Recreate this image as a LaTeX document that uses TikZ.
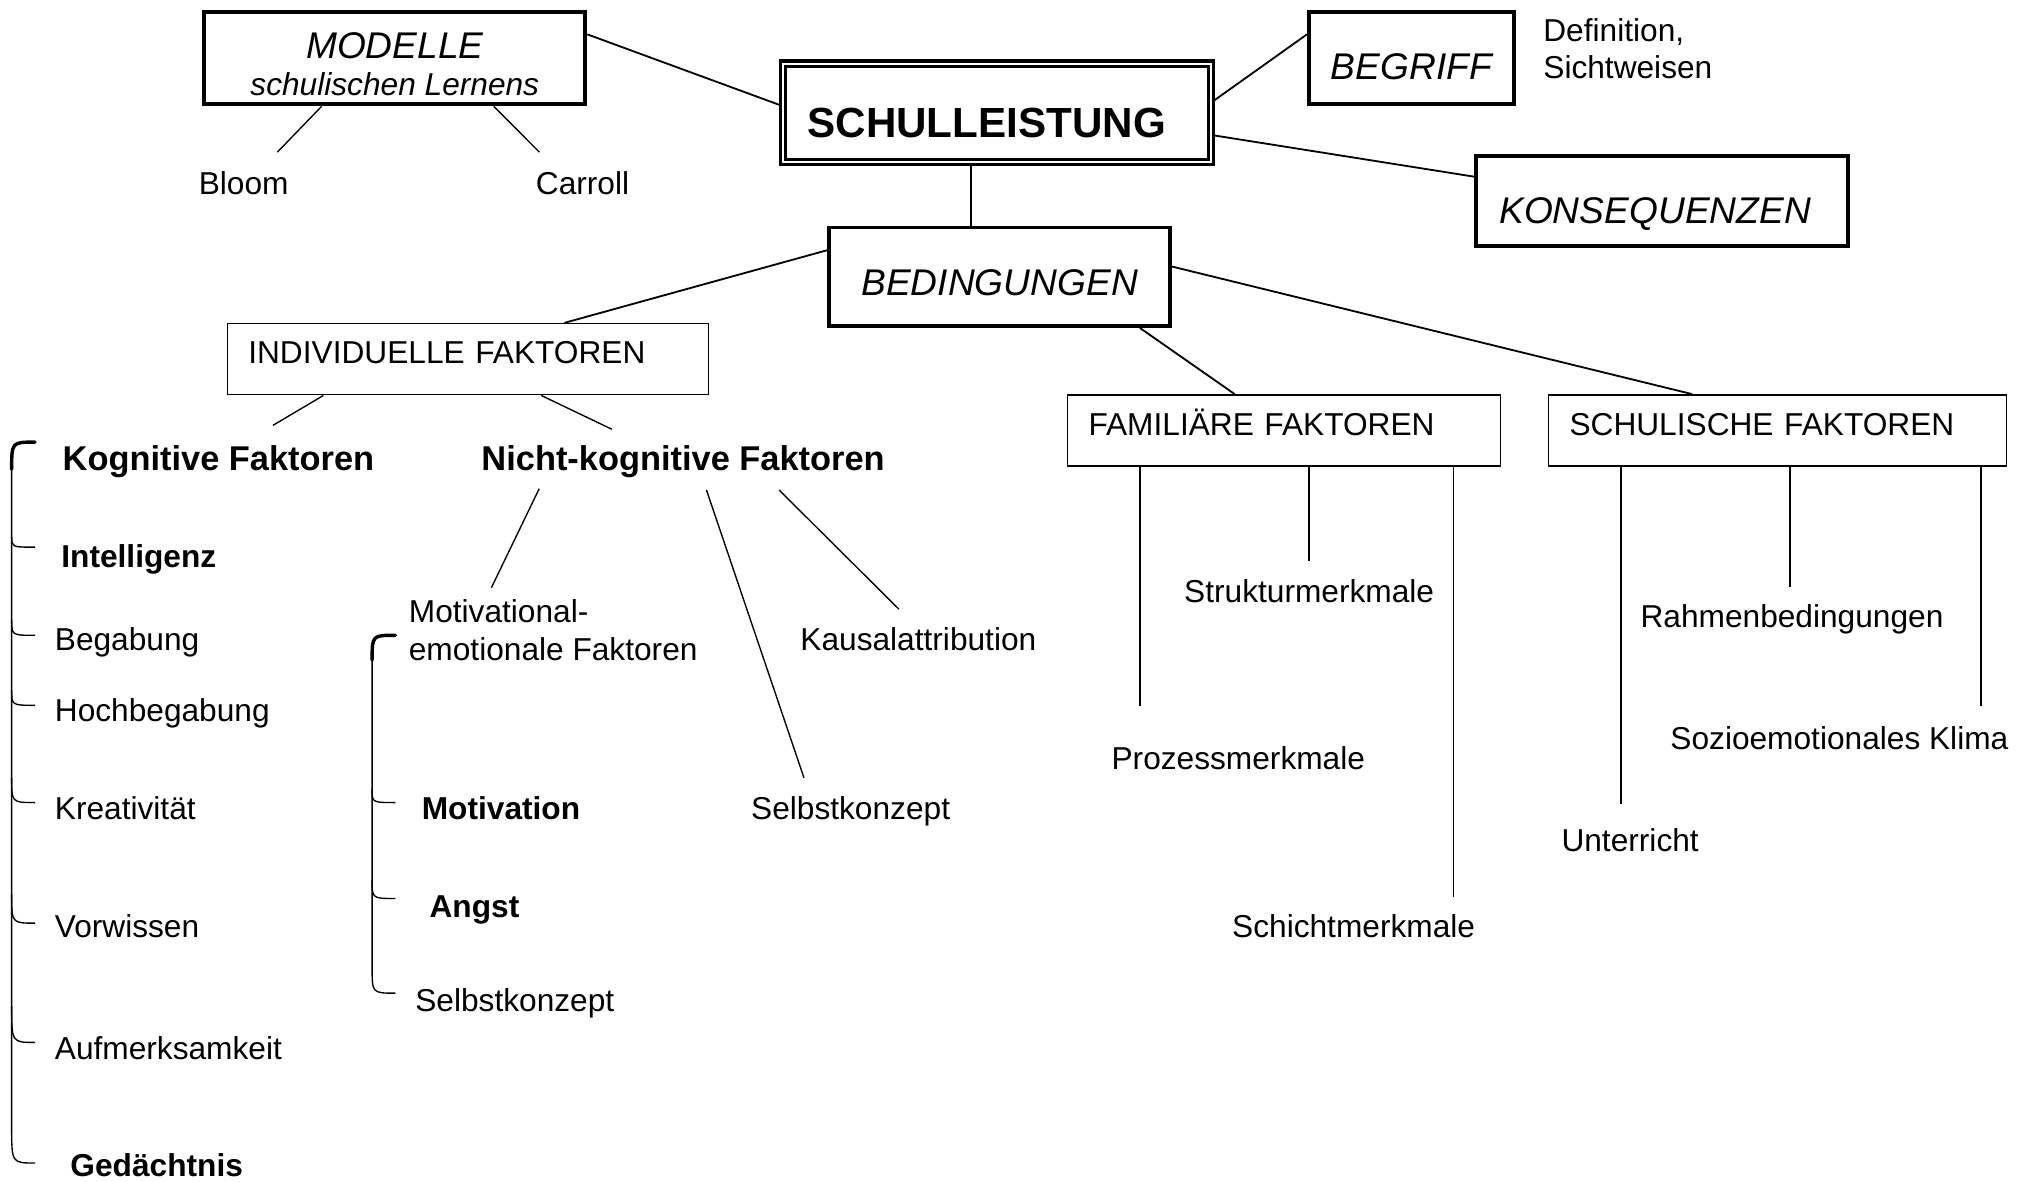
\documentclass[tikz,border=0pt]{standalone}
\usepackage{fontspec}
\setmainfont{Liberation Sans}
\usetikzlibrary{calc}

\newcommand{\txtfont}{\fontsize{13.9}{16.4}\selectfont}
\newcommand{\kopffont}{\fontsize{15.1}{18}\selectfont\bfseries}
\newcommand{\kastenfont}{\fontsize{16.3}{19}\selectfont\itshape}
\newcommand{\hauptfont}{\fontsize{18.5}{22}\selectfont\bfseries}

\tikzset{
    dickbox/.style={draw, line width=1.7pt, inner sep=0pt, font=\kastenfont},
    duennbox/.style={draw, line width=0.6pt, anchor=north west, inner xsep=0.32cm,
        inner ysep=0pt, text height=0.62cm, text depth=0.48cm, align=left, font=\txtfont},
    txt/.style={anchor=west, inner sep=0pt, font=\txtfont},
    eintrag/.style={txt, text height=10pt, text depth=0pt},
    fett/.style={eintrag, font=\txtfont\bfseries},
    kopf/.style={eintrag, font=\kopffont, text height=10.9pt},
    verb/.style={line width=0.8pt},
    ast/.style={line width=0.6pt},
    haken/.style={line width=0.6pt},
    klammerkopf/.style={line width=1.5pt, line cap=round},
}

\begin{document}
\begin{tikzpicture}[x=0.02cm, y=-0.02cm]
    \useasboundingbox (0,0) rectangle (1568,911);

    % obere Kaesten
    \node (schul) [dickbox, double, line width=1.4pt, double distance=0.9pt, font=\hauptfont,
        minimum width=6.6cm, minimum height=1.52cm, text height=0.75cm, text depth=0pt]
        at (769,87) {SCHULLEISTUNG\kern0.32cm};
    \node (modelle) [dickbox, align=center, font=\itshape\txtfont, minimum width=5.88cm,
        minimum height=1.42cm, text height=1.24cm, text depth=0.08cm]
        at (304.5,45) {{\kastenfont MODELLE}\\schulischen Lernens};
    \node (begriff) [dickbox, minimum width=3.16cm, minimum height=1.42cm,
        text height=0.65cm, text depth=0pt] at (1088.5,45) {BEGRIFF};
    \node (defin) [txt, align=left] at (1190,37.5) {Definition,\\Sichtweisen};
    \node (konseq) [dickbox, minimum width=5.74cm, minimum height=1.38cm,
        text height=0.69cm, text depth=0pt] at (1282,155) {KONSEQUENZEN\kern0.22cm};
    \node (beding) [dickbox, minimum width=5.26cm, minimum height=1.52cm,
        text height=0.59cm, text depth=0pt] at (771,213.5) {BEDINGUNGEN};
    \node (bloom) [eintrag] at (153,141.5) {Bloom};
    \node (carroll) [eintrag] at (413,141.5) {Carroll};

    % Faktoren
    \node (indiv) [duennbox, text width=6.78cm] at (175,249) {INDIVIDUELLE FAKTOREN};
    \node (famil) [duennbox, text width=6.04cm] at (823,304) {FAMILIÄRE FAKTOREN};
    \node (schulf) [duennbox, text width=6.42cm] at (1194,304) {SCHULISCHE FAKTOREN};

    % individuelle Faktoren
    \node (kogn) [kopf] at (48,353) {Kognitive Faktoren};
    \node (nicht) [kopf] at (371,353) {Nicht-kognitive Faktoren};
    \node (intell) [fett] at (47,429) {Intelligenz};
    \node (begab) [eintrag] at (42,493) {Begabung};
    \node (hochb) [eintrag] at (42,548) {Hochbegabung};
    \node (kreat) [eintrag] at (42,623) {Kreativität};
    \node (vorw) [eintrag] at (42,714) {Vorwissen};
    \node (aufm) [eintrag] at (42,808) {Aufmerksamkeit};
    \node (gedae) [fett] at (54,899) {Gedächtnis};
    \node (motiv) [txt, align=left] at (315,486) {Motivational-\\emotionale Faktoren};
    \node (motivation) [fett] at (325,623) {Motivation};
    \node (angst) [fett] at (331,699) {Angst};
    \node (selbstb) [eintrag] at (320,771) {Selbstkonzept};
    \node (selbsta) [eintrag] at (579,623) {Selbstkonzept};
    \node (kausal) [eintrag] at (617,493) {Kausalattribution};

    % familiaere und schulische Faktoren
    \node (struktur) [eintrag] at (913,456) {Strukturmerkmale};
    \node (prozess) [eintrag] at (857,585) {Prozessmerkmale};
    \node (schicht) [eintrag] at (950,714) {Schichtmerkmale};
    \node (rahmen) [eintrag] at (1265,475) {Rahmenbedingungen};
    \node (sozio) [eintrag] at (1288,569) {Sozioemotionales Klima};
    \node (unterr) [eintrag] at (1204,648) {Unterricht};

    % Verbindungen
    \draw[verb] ($(modelle.north east)!.25!(modelle.south east)$) -- ($(schul.north west)!.43!(schul.south west)$);
    \draw[verb] ($(schul.north east)!.39!(schul.south east)$) -- ($(begriff.north west)!.25!(begriff.south west)$);
    \draw[verb] ($(schul.north east)!.72!(schul.south east)$) -- ($(konseq.north west)!.24!(konseq.south west)$);
    \draw[verb] ($(schul.south west)!.44!(schul.south east)$) coordinate (s1) -- (s1 |- beding.north);
    \draw[verb] ($(beding.north west)!.24!(beding.south west)$) -- ($(indiv.north west)!.70!(indiv.north east)$);
    \draw[verb] ($(beding.south west)!.907!(beding.south east)$) -- ($(famil.north west)!.386!(famil.north east)$);
    \draw[verb] ($(beding.north east)!.40!(beding.south east)$) -- ($(schulf.north west)!.314!(schulf.north east)$);

    \draw[ast] ($(modelle.south west)!.31!(modelle.south east)$) -- ($(bloom.north east)+(-9,-15)$);
    \draw[ast] ($(modelle.south west)!.757!(modelle.south east)$) -- ($(carroll.north west)+(3,-15)$);
    \draw[ast] ($(indiv.south west)!.2!(indiv.south east)$) -- ($(kogn.north)+(42,-15)$);
    \draw[ast] ($(indiv.south west)!.652!(indiv.south east)$) -- ($(nicht.north)+(-55,-12)$);
    \draw[ast] ($(nicht.south)+(-111,14)$) -- ($(motiv.north west)+(64,-9)$);
    \draw[ast] ($(nicht.south)+(18,15)$) -- ($(selbsta.north)+(-36,-14)$);
    \draw[ast] ($(nicht.south)+(74,15)$) -- ($(kausal.north)+(-15,-14)$);

    \draw[ast, shorten >=0.62cm] ($(famil.south west)!.168!(famil.south east)$) coordinate (f1) -- (f1 |- prozess.north);
    \draw[ast, shorten >=0.28cm] ($(famil.south west)!.557!(famil.south east)$) coordinate (f2) -- (f2 |- struktur.north);
    \draw[ast, shorten >=0.26cm] ($(famil.south west)!.889!(famil.south east)$) coordinate (f3) -- (f3 |- schicht.north);
    \draw[ast, shorten >=0.38cm] ($(schulf.south west)!.159!(schulf.south east)$) coordinate (g1) -- (g1 |- unterr.north);
    \draw[ast, shorten >=0.26cm] ($(schulf.south west)!.527!(schulf.south east)$) coordinate (g2) -- (g2 |- rahmen.north);
    \draw[ast, shorten >=0.30cm] ($(schulf.south west)!.943!(schulf.south east)$) coordinate (g3) -- (g3 |- sozio.north);

    % Klammern
    \draw[haken] (9,360) -- (9,869) .. controls (9,897) .. (27,897);
    \draw[klammerkopf] (9,362) .. controls (9,341) .. (27,341);
    \foreach \ya/\yb in {414/422,478/490,532/544,600/619,690/712,776/804}
        \draw[haken] (9,\ya) .. controls (9,\yb) .. (27,\yb);
    \draw[haken] (287,507) -- (287,746) .. controls (287,766) .. (305,766);
    \draw[klammerkopf] (287,509) .. controls (287,490) .. (305,490);
    \foreach \ya/\yb in {609/619,679/693}
        \draw[haken] (287,\ya) .. controls (287,\yb) .. (305,\yb);
\end{tikzpicture}
\end{document}
